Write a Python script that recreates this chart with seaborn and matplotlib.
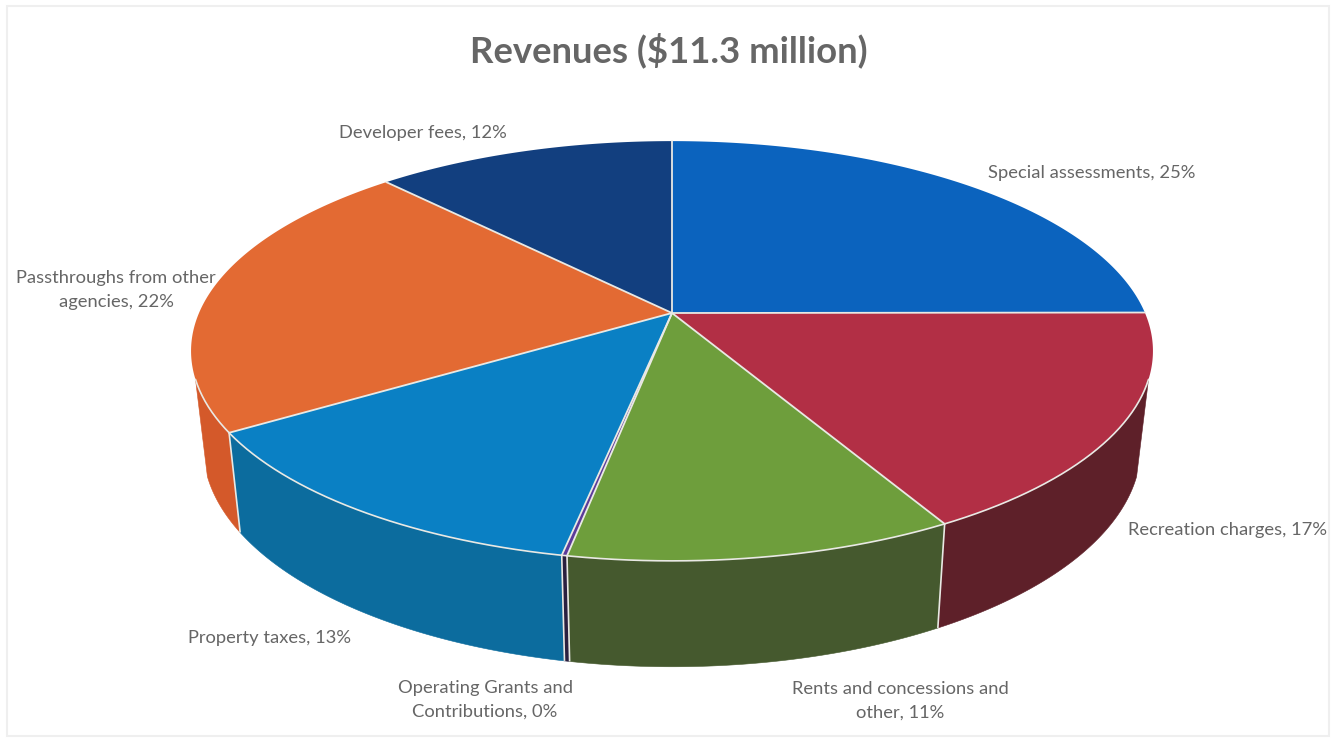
import numpy as np
import matplotlib
matplotlib.use("Agg")
import matplotlib.pyplot as plt
from matplotlib.patches import Polygon, Rectangle
import seaborn as sns

# Revenue shares, clockwise from twelve o'clock
categories = [
    "Special assessments", "Recreation charges", "Rents and concessions and\nother",
    "Operating Grants and\nContributions", "Property taxes",
    "Passthroughs from other\nagencies", "Developer fees",
]
shares = [25, 17, 11, 0.15, 13, 22, 12]
top_colors = ["#0B63BE", "#B22F45", "#6E9E3C", "#5B3A9A", "#0A80C4", "#E36A33", "#123F7F"]
side_colors = ["#0A4E96", "#5E2029", "#45592E", "#2A2040", "#0C6C9E", "#D4592A", "#0E3064"]
label_anchor = [
    (1092, 173), (1228, 530), (900, 701), (485, 700), (269, 638), (116, 290), (423, 133),
]

TITLE = "Revenues ($11.3 million)"
TEXT_GREY = "#666666"
EDGE = "#E9E9E4"

sns.set_theme(style="white")
plt.rcParams["font.family"] = ["Lato", "DejaVu Sans"]
face_palette = sns.color_palette(top_colors)
wall_palette = sns.color_palette(side_colors)

W, H = 1333, 741
fig = plt.figure(figsize=(W / 100, H / 100), dpi=100)
ax = fig.add_axes([0, 0, 1, 1])
ax.set_xlim(0, W)
ax.set_ylim(H, 0)
ax.axis("off")

XC, YC = 672.0, 313.0
TILT = 0.181


def rim(theta):
    """Perspective projection of clockwise angles (0 = up) on the disc's top face."""
    u, v = np.sin(theta), -np.cos(theta)
    depth = 1 - TILT * v
    return XC + 473 * u / depth, YC + 203 * v / depth


def lower_rim(theta):
    x, y = rim(theta)
    return XC + (x - XC) * 0.975, YC + 94 + (y - YC) * 1.048


def arc(a, b):
    return np.linspace(a, b, max(int((b - a) * 120), 2))


fractions = np.array(shares) / np.sum(shares)
edges = 2 * np.pi * np.concatenate([[0], np.cumsum(fractions)])

# Side wall, limited to the part of the rim that faces the viewer
WALL_FROM, WALL_TO = np.radians(108), np.radians(252)
order = sorted(range(len(shares)), key=lambda k: -abs(np.pi - (edges[k] + edges[k + 1]) / 2))
for k in order:
    a, b = max(edges[k], WALL_FROM), min(edges[k + 1], WALL_TO)
    if a >= b:
        continue
    t = arc(a, b)
    xt, yt = rim(t)
    xb, yb = lower_rim(t)
    pts = np.column_stack([np.r_[xt, xb[::-1]], np.r_[yt, yb[::-1]]])
    ax.add_patch(Polygon(pts, closed=True, facecolor=wall_palette[k], edgecolor=wall_palette[k], lw=0.4))

# Vertical seams between wall segments
for k in range(1, len(shares)):
    e = edges[k]
    if WALL_FROM < e < WALL_TO:
        xt, yt = rim(np.array([e]))
        xb, yb = lower_rim(np.array([e]))
        ax.plot([xt[0], xb[0]], [yt[0], yb[0]], color=EDGE, lw=1.2, solid_capstyle="butt")

# Top face slices
for k in range(len(shares)):
    t = arc(edges[k], edges[k + 1])
    x, y = rim(t)
    pts = np.column_stack([np.r_[XC, x], np.r_[YC, y]])
    ax.add_patch(Polygon(pts, closed=True, facecolor=face_palette[k], edgecolor="none"))

# Spokes and front rim outline
for e in edges[:-1]:
    x, y = rim(np.array([e]))
    ax.plot([XC, x[0]], [YC, y[0]], color=EDGE, lw=1.3, solid_capstyle="round")
x, y = rim(arc(WALL_FROM, WALL_TO))
ax.plot(x, y, color=EDGE, lw=1.2)

# Slice labels
for name, share, (lx, ly) in zip(categories, shares, label_anchor):
    ax.text(lx, ly, f"{name}, {round(share)}%", ha="center", va="center",
            fontsize=13.2, color=TEXT_GREY, linespacing=1.55)

ax.text(669, 50, TITLE, ha="center", va="center", fontsize=26.3, fontweight="bold", color=TEXT_GREY)

# Chart frame
ax.add_patch(Rectangle((7, 6), 1322, 730, fill=False, edgecolor="#EFEFEF", lw=1.5))

fig.savefig("out.png", dpi=100, facecolor="white")
